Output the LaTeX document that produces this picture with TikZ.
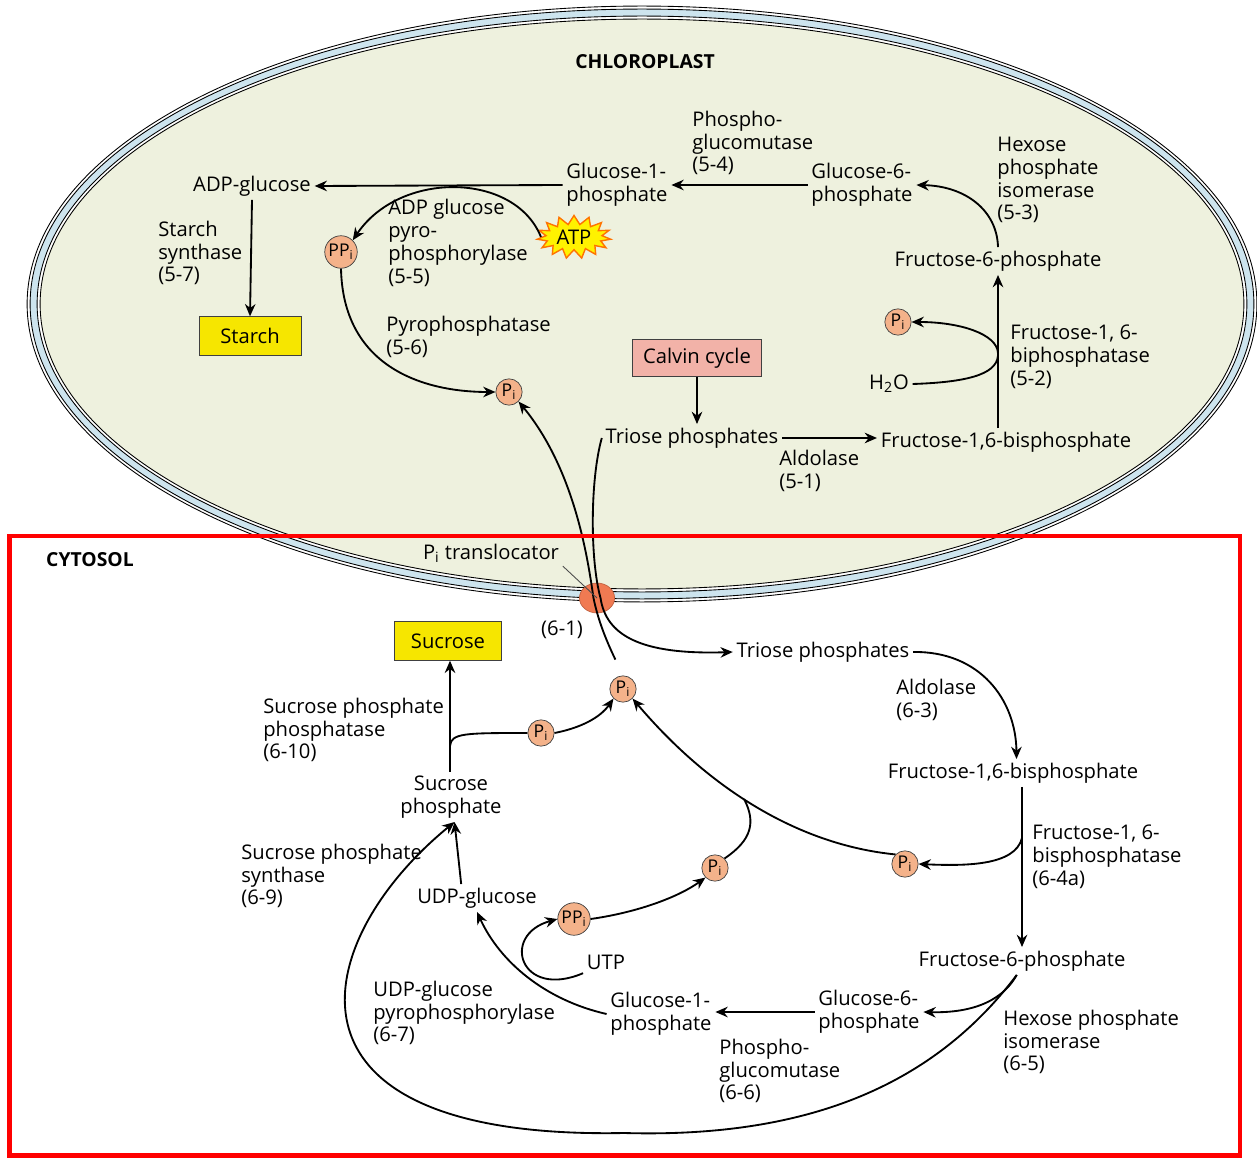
\documentclass[tikz,border=0pt]{standalone}
\usepackage{fontspec}
\setmainfont{Open Sans}
\usetikzlibrary{shapes.geometric, shapes.symbols, arrows.meta, positioning}
\definecolor{chlfill}{RGB}{238,241,222}
\definecolor{membblue}{RGB}{205,228,238}
\definecolor{prodyellow}{RGB}{246,230,0}
\definecolor{calvinpink}{RGB}{242,178,168}
\definecolor{pifill}{RGB}{244,178,138}
\definecolor{transorange}{RGB}{240,122,82}
\definecolor{boxred}{RGB}{255,0,0}
\newcommand{\Psub}{P\textsubscript{i}}
\newcommand{\PPsub}{PP\textsubscript{i}}
\tikzset{
    met/.style = {inner sep=2pt, align=left},
    enz/.style = {anchor=west, inner sep=0pt, align=left},
    prodbox/.style = {rectangle, draw=black!75, fill=prodyellow, minimum height=22pt, minimum width=58pt},
    calvinbox/.style = {rectangle, draw=black!75, fill=calvinpink, minimum height=21pt, inner xsep=6pt},
    pcirc/.style = {circle, draw=black!75, fill=pifill, inner sep=0pt, minimum size=15pt, font=\fontsize{10}{11}\selectfont},
    ppcirc/.style = {pcirc, minimum size=18.5pt},
    atpstar/.style = {starburst, starburst points=15, starburst point height=5pt, random starburst=0, fill=yellow, draw=orange!90!red, line width=0.8pt, minimum width=42pt, minimum height=20pt, inner sep=1pt},
    title/.style = {font=\fontsize{11}{13}\selectfont\bfseries},
    rxn/.style = {line width=1.05pt, -{Stealth[length=7pt, width=6pt]}},
    link/.style = {line width=1.05pt}
}
\begin{document}
\begin{tikzpicture}[x=0.02cm, y=-0.02cm, font=\fontsize{11.5}{13}\selectfont]
\useasboundingbox (0,0) rectangle (1257,1158);
\fill[white] (0,0) rectangle (1257,1158);

% chloroplast envelope
\filldraw[fill=white, draw=black, line width=0.5pt] (642,304) ellipse [x radius=12.30cm, y radius=5.96cm];
\filldraw[fill=membblue, draw=black, line width=0.5pt] (642,304) ellipse [x radius=12.24cm, y radius=5.90cm];
\filldraw[fill=white, draw=black, line width=0.5pt] (642,304) ellipse [x radius=12.10cm, y radius=5.76cm];
\filldraw[fill=chlfill, draw=black, line width=0.5pt] (642,304) ellipse [x radius=12.04cm, y radius=5.70cm];

\node[title] (chl) at (645,62) {CHLOROPLAST};
\node[title] (cyt) at (90,560) {CYTOSOL};

% chloroplast metabolites
\node[met] (adpg) at (252,186) {ADP-glucose};
\node[met] (g1p) at (617,185) {Glucose-1-\\phosphate};
\node[met] (g6p) at (862,185) {Glucose-6-\\phosphate};
\node[met] (f6p) at (998,261) {Fructose-6-phosphate};
\node[met] (fbp) at (1006,442) {Fructose-1,6-bisphosphate};
\node[met] (tp) at (692,438) {Triose phosphates};
\node[calvinbox] (calvin) at (697,358) {Calvin cycle};
\node[prodbox] (starch) at (250,336) {Starch};
\node[pcirc] (pi1) at (898,322) {\Psub};
\node[met] (h2o) at (889,384) {H\textsubscript{2}O};
\node[ppcirc] (ppi1) at (341,252) {\PPsub};
\node[atpstar] (atp) at (574,237) {ATP};
\node[pcirc] (pi2) at (509,392) {\Psub};

% chloroplast enzymes
\node[enz] (pgm1) at (692,143) {Phospho-\\glucomutase\\(5-4)};
\node[enz] (hpi1) at (997,180) {Hexose\\phosphate\\isomerase\\(5-3)};
\node[enz] (fbpase1) at (1010,357) {Fructose-1, 6-\\biphosphatase\\(5-2)};
\node[enz] (ald1) at (779,471) {Aldolase\\(5-1)};
\node[enz] (ss) at (158,253) {Starch\\synthase\\(5-7)};
\node[enz] (agpp) at (388,243) {ADP glucose\\pyro-\\phosphorylase\\(5-5)};
\node[enz] (ppase) at (386,337) {Pyrophosphatase\\(5-6)};

% cytosol metabolites
\node[ellipse, fill=transorange, draw=transorange!80!black, minimum width=20pt, minimum height=17pt, inner sep=0pt] (tl) at (597,598) {};
\node[met] (tllab) at (491,553) {\Psub\ translocator};
\node[met] (n61) at (562,630) {(6-1)};
\node[prodbox, minimum width=61pt] (sucrose) at (448,641) {Sucrose};
\node[met] (tpc) at (823,652) {Triose phosphates};
\node[pcirc] (pi3) at (623,689) {\Psub};
\node[pcirc] (pi4) at (541,733) {\Psub};
\node[met, align=center] (sucp) at (451,797) {Sucrose\\phosphate};
\node[met] (fbpc) at (1013,773) {Fructose-1,6-bisphosphate};
\node[pcirc] (pi5) at (905,864) {\Psub};
\node[pcirc] (pi6) at (715,868) {\Psub};
\node[met] (udpg) at (477,898) {UDP-glucose};
\node[ppcirc] (ppi2) at (574,919) {\PPsub};
\node[met] (utp) at (606,962) {UTP};
\node[met] (f6pc) at (1022,961) {Fructose-6-phosphate};
\node[met] (g1pc) at (661,1014) {Glucose-1-\\phosphate};
\node[met] (g6pc) at (869,1012) {Glucose-6-\\phosphate};

% cytosol enzymes
\node[enz] (spp) at (263,730) {Sucrose phosphate\\phosphatase\\(6-10)};
\node[enz] (sps) at (241,876) {Sucrose phosphate\\synthase\\(6-9)};
\node[enz] (ugpp) at (373,1013) {UDP-glucose\\pyrophosphorylase\\(6-7)};
\node[enz] (pgm2) at (719,1071) {Phospho-\\glucomutase\\(6-6)};
\node[enz] (hpi2) at (1003,1042) {Hexose phosphate\\isomerase\\(6-5)};
\node[enz] (ald2) at (896,700) {Aldolase\\(6-3)};
\node[enz] (fbpase2) at (1032,857) {Fructose-1, 6-\\bisphosphatase\\(6-4a)};

% branch points
\coordinate (fb1) at (998,353);
\coordinate (fb2) at (1022,838);
\coordinate (sp1) at (450,746);
\coordinate (loop) at (624,1133);

% chloroplast reactions
\draw[rxn] (g1p.west) -- (adpg.east);
\draw[rxn] (g6p.west) -- (g1p.east);
\draw[rxn] (adpg.south) -- (starch.north);
\draw[rxn] (atp.west) .. controls (515,172) and (400,170) .. (ppi1.north east);
\draw[rxn] (ppi1.south) .. controls (343,365) and (420,392) .. (pi2.west);
\draw[rxn] (f6p.north) .. controls (997,210) and (965,186) .. (g6p.east);
\draw[rxn] (fbp.north -| f6p.south) -- (f6p.south);
\draw[link] (h2o.east) .. controls (975,382) and (999,372) .. (fb1);
\draw[rxn] (fb1) .. controls (997,334) and (960,322) .. (pi1.east);
\draw[rxn] (calvin.south) -- (calvin.south |- tp.north);
\draw[rxn] (tp.east) -- (tp.east -| fbp.west);

% P_i translocator
\draw[rxn, shorten <=10pt] (pi3.north) .. controls (606,640) and (598,620) .. ([xshift=-2pt]tl.center) .. controls (588,560) and (575,470) .. (pi2.south east);
\draw[rxn] (tp.west) .. controls (590,480) and (590,560) .. ([xshift=2pt]tl.center) .. controls (606,635) and (640,655) .. (tpc.west);
\draw[black!70, line width=0.5pt] (tllab.south east) -- (tl.center);

% cytosol reactions
\draw[rxn] (tpc.east) .. controls (980,651) and (1016,700) .. ([xshift=2pt]fbpc.north);
\draw[rxn] (fbpc.south -| f6pc.north) -- (f6pc.north);
\draw[rxn] (fb2) .. controls (1015,866) and (965,866) .. (pi5.east);
\draw[rxn] (pi5.north west) .. controls (800,845) and (710,790) .. coordinate[pos=0.55] (jn) (pi3.south east);
\draw[link] (pi6.north east) .. controls (752,840) and (756,822) .. (jn);
\draw[rxn] (ppi2.east) .. controls (640,912) and (680,896) .. (pi6.south west);
\draw[rxn] (sucp.north -| sp1) -- (sp1 |- sucrose.south);
\draw[link] (sp1) .. controls (451,733) and (465,733) .. (pi4.west);
\draw[rxn] (pi4.east) .. controls (580,728) and (600,718) .. (pi3.south west);
\draw[rxn] ([xshift=-9pt]udpg.north) -- ([xshift=2pt]sucp.south);
\draw[rxn] ([xshift=-3pt]f6pc.south) .. controls (930,1090) and (800,1138) .. (loop) .. controls (260,1140) and (310,940) .. ([xshift=2pt]sucp.south);
\draw[rxn] ([xshift=-3pt]f6pc.south) .. controls (1000,1005) and (965,1013) .. (g6pc.east);
\draw[rxn] (g6pc.west) -- (g6pc.west -| g1pc.east);
\draw[rxn] (g1pc.west) .. controls (545,1000) and (500,962) .. (udpg.south);
\draw[rxn] (utp.south west) .. controls (520,1000) and (500,935) .. (ppi2.west);

% cytosol frame
\draw[boxred, line width=2.8pt] (9.5,536) rectangle (1240,1155.5);
\end{tikzpicture}
\end{document}
